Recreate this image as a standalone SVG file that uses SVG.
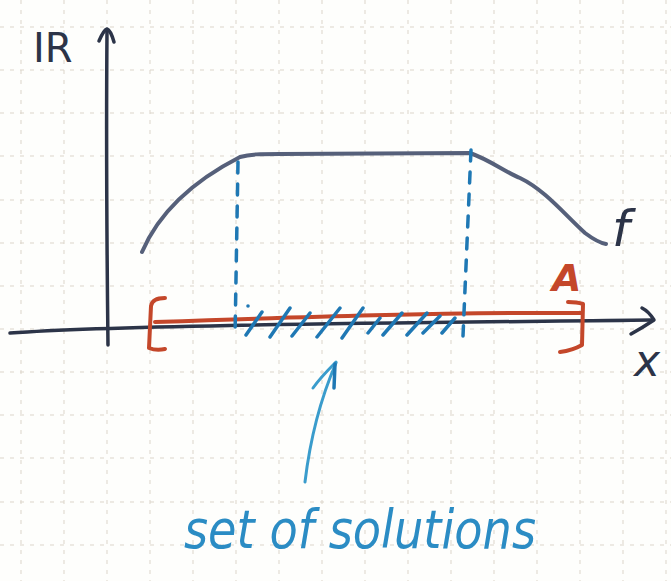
<svg xmlns="http://www.w3.org/2000/svg" width="671" height="581" viewBox="0 0 671 581">
  <style>
    .grid { stroke: #dcd5ca; stroke-width: 1; stroke-dasharray: 4 6; fill: none; }
    .ink { fill: none; stroke-linecap: round; stroke-linejoin: round; }
    .navy { stroke: #2c3448; stroke-width: 3.5; }
    .fcurve { stroke: #56607a; stroke-width: 4; }
    .red { stroke: #c4472a; stroke-width: 4; }
    .blue { stroke: #1f78b4; stroke-width: 3.5; }
    .dash { stroke: #1f78b4; stroke-width: 3.5; stroke-dasharray: 11 11; }
    .lblue { stroke: #3a9ccc; stroke-width: 3; }
    .hand { font-family: "DejaVu Sans", "Liberation Sans", sans-serif; font-style: italic; }
    .upright { font-family: "DejaVu Sans", "Liberation Sans", sans-serif; font-style: normal; }
  </style>
  <rect width="671" height="581" fill="#fefefc"/>
  <g id="grid">
    <path class="grid" d="M21,0V581 M64,0V581 M107,0V581 M150,0V581 M193,0V581 M236,0V581 M279,0V581 M322,0V581 M365,0V581 M408,0V581 M451,0V581 M494,0V581 M537,0V581 M580,0V581 M623,0V581 M666,0V581"/>
    <path class="grid" d="M0,27H671 M0,70H671 M0,113H671 M0,156H671 M0,200H671 M0,243H671 M0,286H671 M0,329H671 M0,372H671 M0,415H671 M0,458H671 M0,502H671 M0,545H671"/>
  </g>
  <g id="axes">
    <path class="ink navy" d="M108,345 C107,260 106,150 107,31"/>
    <path class="ink navy" d="M99,41 C102,34 104,30 107,29 C110,30 112,35 114,42" stroke-width="3"/>
    <path class="ink navy" d="M10,333 C120,325 400,323 652,320"/>
    <path class="ink navy" d="M642,308 C648,311 651,315 654,320 C648,324 640,329 631,334" stroke-width="3"/>
    <text class="upright" x="33" y="62" font-size="40" fill="#2c3448">IR</text>
    <text class="hand" x="634" y="376" font-size="44" fill="#2c3448">x</text>
  </g>
  <g id="function-f">
    <path class="ink fcurve" d="M142,252 C160,210 195,180 240,157 C250,154 260,154 280,154 L470,153 C490,160 505,172 520,178 C545,190 565,215 585,233 C593,239 600,243 606,244"/>
    <text class="hand" x="612" y="246" font-size="50" fill="#2c3448">f</text>
  </g>
  <g id="set-A">
    <path class="ink red" d="M155,322 C300,317 450,312 582,313"/>
    <path class="ink red" d="M165,298 C158,298 152,300 151,306 L149,348 C154,350 160,350 165,349"/>
    <path class="ink red" d="M568,302 C575,302 580,303 583,304 L582,345 C575,349 568,351 560,352"/>
    <text class="hand" x="552" y="291" font-size="38" font-weight="bold" fill="#c4472a">A</text>
  </g>
  <g id="solution-bounds">
    <path class="ink dash" d="M238,162 L235,337"/>
    <path class="ink dash" d="M471,150 L463,336"/>
    <circle cx="248" cy="306" r="1.8" fill="#1f78b4"/>
  </g>
  <g id="hatching">
    <path class="ink blue" d="M246,335 L262,312 M270,337 L290,308 M292,336 L310,313 M317,337 L340,308 M342,338 L363,308 M368,333 L380,318 M383,335 L402,313 M407,335 L427,313 M423,333 L440,316 M442,333 L455,318"/>
  </g>
  <g id="connectors">
    <path class="ink lblue" d="M305,482 C310,440 320,400 336,363"/>
    <path class="ink lblue" d="M313,388 C320,378 328,370 336,362"/>
    <path class="ink blue" d="M335,364 L334,388" stroke-width="4.5"/>
  </g>
  <g id="label-solutions">
    <text class="hand" x="184" y="548" font-size="54" fill="#2b8cc4" textLength="352" lengthAdjust="spacingAndGlyphs">set of solutions</text>
  </g>
</svg>
